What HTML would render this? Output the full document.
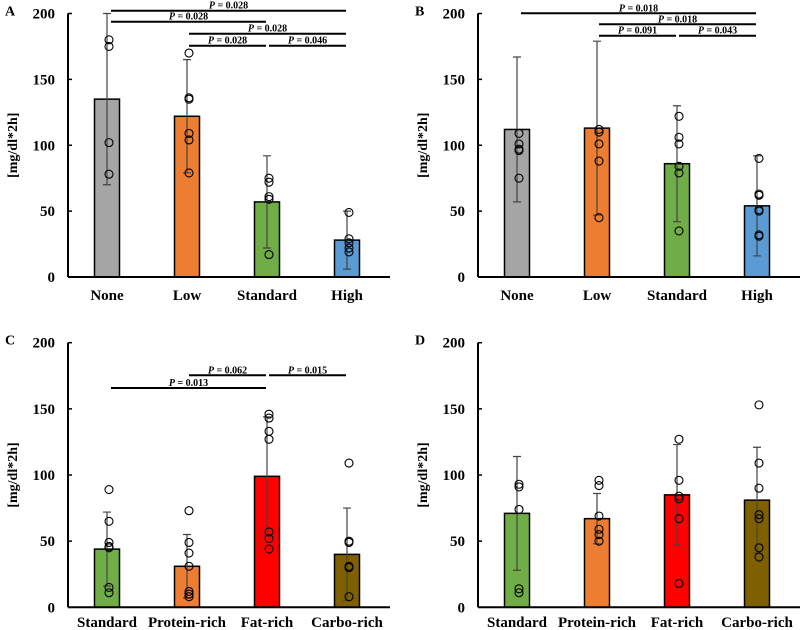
<!DOCTYPE html>
<html><head><meta charset="utf-8">
<style>
html,body{margin:0;padding:0;background:#fff;}
svg{display:block;font-family:"Liberation Serif",serif;font-weight:bold;}
</style></head>
<body>
<svg id="fig" width="800" height="630" viewBox="0 0 800 630" xmlns="http://www.w3.org/2000/svg"></svg>
<script>
const catsTop = ["None","Low","Standard","High"];
const catsBot = ["Standard","Protein-rich","Fat-rich","Carbo-rich"];
const colorsTop = ["#a5a5a5","#ed7d31","#70ad47","#5b9bd5"];
const colorsBot = ["#70ad47","#ed7d31","#ff0000","#7f6000"];
const yTicks = [0,50,100,150,200];

const meansA = [135,122,57,28];
const sdA = [65,43,35,22];
const ptsA = [[180,175,102,78],[170,136,135,109,104,79],[75,72,61,59,17],[49,29,26,22,19]];
const sigA = [[0,3,"0.028",0],[0,2,"0.028",1],[1,3,"0.028",2],[1,2,"0.028",3],[2,3,"0.046",3]];

const meansB = [112,113,86,54];
const sdB = [55,66,44,38];
const ptsB = [[109,101,97,96,75],[112,110,101,88,45],[122,106,101,84,79,35],[90,63,62,51,50,32,31]];
const sigB = [[0,3,"0.018",0],[1,3,"0.018",1],[1,2,"0.091",2],[2,3,"0.043",2]];

const meansC = [44,31,99,40];
const sdC = [28,24,45,35];
const ptsC = [[89,65,49,46,45,15,11],[73,49,41,31,12,10,8],[146,143,133,127,57,52,44],[109,50,49,31,30,8]];
const sigC = [[1,2,"0.062",0],[2,3,"0.015",0],[0,2,"0.013",1]];

const meansD = [71,67,85,81];
const sdD = [43,19,38,40];
const ptsD = [[93,91,74,14,11],[96,92,69,59,55,50],[127,96,84,82,67,18],[153,109,90,70,67,45,38]];
const sigD = [];

const NS="http://www.w3.org/2000/svg";
const svg=document.getElementById('fig');
function mk(tag,attrs,parent,text){
  const e=document.createElementNS(NS,tag);
  for(const k in attrs) e.setAttribute(k,attrs[k]);
  if(text!==undefined) e.textContent=text;
  (parent||svg).appendChild(e);
  return e;
}

function panel(letter,ox,oy,y0,y200,cats,colors,means,sds,pts,sigs,sigYs,sigX){
  const g=mk('g',{});
  
  
  const ax=ox, xEnd=ox+322;
  const yS=v=>y0-(v/200)*(y0-y200);
  const xS=i=>ox+39+i*80;
  const t=mk('text',{x:ox-63,y:y200+2,'font-size':14},g,letter);
  
  
  const yl=mk('text',{x:0,y:0,'font-size':14,'text-anchor':'middle',transform:`translate(${ox-51},${(y0+y200)/2}) rotate(-90)`},g,'[mg/dl*2h]');
  
  
  yTicks.forEach(v=>{
    const tl=mk('text',{x:ax-13,y:yS(v)+5,'font-size':15,'text-anchor':'end'},g,String(v));
    
    
    mk('line',{x1:ax,x2:ax+4,y1:yS(v),y2:yS(v),stroke:'#000','stroke-width':1.5},g);
  });
  cats.forEach((c,i)=>{
    const cx=xS(i);
    const b=mk('rect',{x:cx-12.5,y:yS(means[i]),width:25,height:y0-yS(means[i]),fill:colors[i],stroke:'#000','stroke-width':1.5},g);
    
    
    const hi=yS(means[i]+sds[i]), lo=yS(Math.max(0,means[i]-sds[i]));
    const eb=mk('path',{d:`M${cx},${hi}V${lo}M${cx-4},${hi}H${cx+4}M${cx-4},${lo}H${cx+4}`,stroke:'#444','stroke-width':1.2,fill:'none'},g);
    
    
    pts[i].forEach(v=>{
      const p=mk('circle',{cx:cx+2,cy:yS(v),r:4,fill:'none',stroke:'#000','stroke-width':1.1},g);
      
      
    });
    const cl=mk('text',{x:cx,y:oy+300,'font-size':15,'text-anchor':'middle'},g,c);
    
    
  });
  mk('line',{x1:ax,x2:ax,y1:y200,y2:y0,stroke:'#000','stroke-width':2},g);
  mk('line',{x1:ax,x2:xEnd,y1:y0,y2:y0,stroke:'#000','stroke-width':2},g);
  sigs.forEach(s=>{
    const y=sigYs[s[3]];
    const x1=sigX(s[0],true), x2=sigX(s[1],false);
    const l=mk('line',{x1:x1,x2:x2,y1:y,y2:y,stroke:'#000','stroke-width':2},g);
    
    
    const tx=mk('text',{x:(x1+x2)/2,y:y-2,'font-size':10,'text-anchor':'middle'},g);
    
    
    mk('tspan',{'font-style':'italic'},tx,'P');
    mk('tspan',{},tx,' = '+s[2]);
  });
}
const sx=(ox)=>(i,start)=>{
  const c=ox+39+i*80;
  return start?(i===0?c+4:c+2):(c-1);
};
panel('A',68,0,277,13.5,catsTop,colorsTop,meansA,sdA,ptsA,sigA,[10.7,21.7,33.7,45.7],sx(68));
panel('B',478,0,277,13.5,catsTop,colorsTop,meansB,sdB,ptsB,sigB,[13.3,24.3,35.7],sx(478));
panel('C',68,327,607.3,342.7,catsBot,colorsBot,meansC,sdC,ptsC,sigC,[375.3,388],sx(68));
panel('D',478,327,607.3,342.7,catsBot,colorsBot,meansD,sdD,ptsD,sigD,[],sx(478));
</script>
</body></html>
